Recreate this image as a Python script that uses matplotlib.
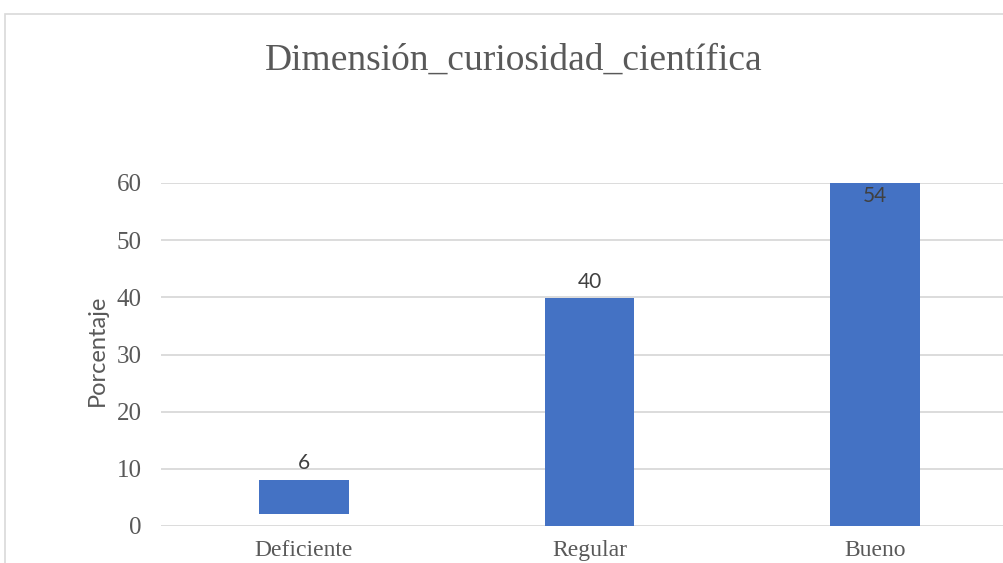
import matplotlib
matplotlib.use("Agg")
import matplotlib.pyplot as plt
from matplotlib.patches import Rectangle

categorias = ["Deficiente", "Regular", "Bueno"]
etiquetas = [6, 40, 54]
base_barra = [2.1, 0, 0]
alto_barra = [6, 39.8, 60]
ticks_y = [0, 10, 20, 30, 40, 50, 60]

W, H = 1004, 563
fig = plt.figure(figsize=(W / 100, H / 100), dpi=100)

# marco exterior del grafico (recortado a derecha y abajo)
fig.patches.append(Rectangle((5 / W, -0.1), 1.2, (H - 14) / H + 0.1,
                             transform=fig.transFigure, fill=False,
                             edgecolor="#d9d9d9", linewidth=1.2))

left, right = 161, 1018
y0, y60 = 526, 183
ax = fig.add_axes([left / W, (H - y0) / H, (right - left) / W, (y0 - y60) / H])
ax.set_ylim(0, 60)
ax.set_xlim(-0.5, 2.5)

x = range(len(categorias))
bars = ax.bar(x, alto_barra, bottom=base_barra, width=0.315, color="#4472c4", zorder=3)

for i, b in enumerate(bars):
    top = base_barra[i] + alto_barra[i]
    if i == 2:
        ax.text(i, top - 0.5, str(etiquetas[i]), ha="center", va="top",
                fontsize=15, color="#404040", family="Lato", zorder=4)
    else:
        ax.text(i, top + 1.2, str(etiquetas[i]), ha="center", va="bottom",
                fontsize=15, color="#404040", family="Lato", zorder=4)

ax.set_yticks(ticks_y)
ax.set_xticks(list(x))
ax.set_xticklabels(categorias)
ax.grid(axis="y", color="#d9d9d9", linewidth=1.3, zorder=0)
for s in ax.spines.values():
    s.set_visible(False)
ax.tick_params(length=0)
ax.tick_params(axis="y", pad=14, labelsize=18, labelcolor="#595959")
ax.tick_params(axis="x", pad=10, labelsize=17, labelcolor="#595959")
for lab in ax.get_xticklabels() + ax.get_yticklabels():
    lab.set_family("Liberation Serif")

fig.text(97 / W, 1 - 350 / H, "Porcentaje", rotation=90, ha="center", va="center",
         fontsize=17, color="#595959", family="Lato")

fig.text(514 / W, 1 - 60 / H, "Dimensión_curiosidad_científica", ha="center", va="center",
         fontsize=27, color="#595959", family="Liberation Serif")

fig.savefig("out.png", dpi=100)
